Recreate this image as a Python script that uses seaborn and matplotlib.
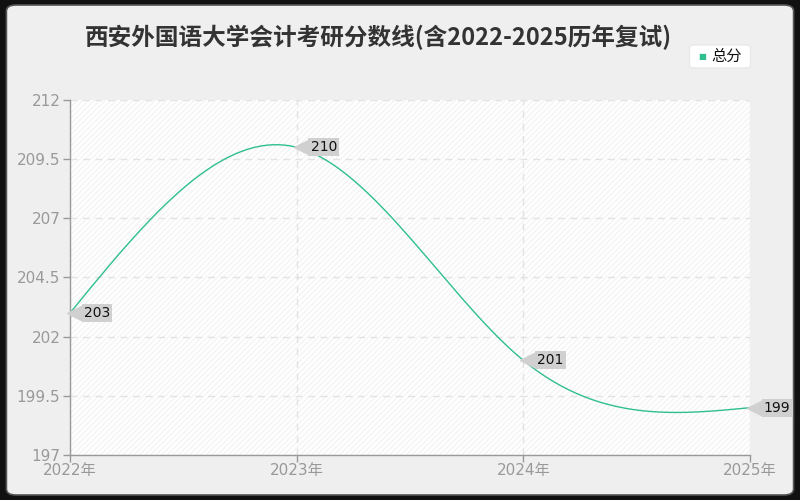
import numpy as np
import pandas as pd
import matplotlib
matplotlib.use("Agg")
import matplotlib.pyplot as plt
import matplotlib.transforms as mtransforms
from matplotlib.patches import FancyBboxPatch
import seaborn as sns

# Datos
years = [2022, 2023, 2024, 2025]
year_labels = ["2022年", "2023年", "2024年", "2025年"]
scores = [203, 210, 201, 199]
y_ticks = [197, 199.5, 202, 204.5, 207, 209.5, 212]
title = "西安外国语大学会计考研分数线(含2022-2025历年复试)"
series_name = "总分"

LINE_COLOR = "#2fbf8f"

sns.set_theme(style="white")
plt.rcParams["font.family"] = ["Noto Sans CJK SC", "DejaVu Sans"]
TICK_FONT = ["DejaVu Sans", "Noto Sans CJK SC"]


def natural_spline(x, y, n=300):
    """Curva suave (spline cúbico natural) solo para dibujar la línea."""
    x = np.asarray(x, float)
    y = np.asarray(y, float)
    k = len(x)
    h = np.diff(x)
    A = np.zeros((k, k))
    b = np.zeros(k)
    A[0, 0] = A[-1, -1] = 1
    for i in range(1, k - 1):
        A[i, i - 1] = h[i - 1]
        A[i, i] = 2 * (h[i - 1] + h[i])
        A[i, i + 1] = h[i]
        b[i] = 6 * ((y[i + 1] - y[i]) / h[i] - (y[i] - y[i - 1]) / h[i - 1])
    M = np.linalg.solve(A, b)
    xs = np.linspace(x[0], x[-1], n)
    idx = np.clip(np.searchsorted(x, xs) - 1, 0, k - 2)
    t0 = x[idx]
    t1 = x[idx + 1]
    hh = t1 - t0
    a = (t1 - xs) / hh
    c = (xs - t0) / hh
    ys = (a * y[idx] + c * y[idx + 1]
          + ((a ** 3 - a) * M[idx] + (c ** 3 - c) * M[idx + 1]) * hh ** 2 / 6)
    return xs, ys


fig = plt.figure(figsize=(8, 5), dpi=100)
fig.patch.set_facecolor("#111111")
panel = FancyBboxPatch((0.008, 0.01), 0.984, 0.98,
                       boxstyle="round,pad=0,rounding_size=0.012",
                       transform=fig.transFigure, facecolor="#efefef",
                       edgecolor="#555555", linewidth=1.2, zorder=-10)
fig.patches.append(panel)

ax = fig.add_axes([0.0875, 0.09, 0.85, 0.71])
ax.set_zorder(1)
ax.set_facecolor("white")
ax.patch.set_hatch("//////")
ax.patch.set_edgecolor("#f4f4f4")
ax.patch.set_linewidth(0)

xs, ys = natural_spline(years, scores)
curve = pd.DataFrame({"year": xs, "score": ys})
sns.lineplot(data=curve, x="year", y="score", ax=ax, color=LINE_COLOR,
             linewidth=1, label=series_name, legend=False)

ax.set_xlim(2022, 2025)
ax.set_ylim(197, 212)
ax.set_xticks(years)
ax.set_xticklabels(year_labels, family=TICK_FONT)
ax.set_yticks(y_ticks)
ax.set_yticklabels([f"{v:g}" for v in y_ticks], family=TICK_FONT)
ax.set_xlabel("")
ax.set_ylabel("")

ax.grid(True, color="#e3e3e3", linestyle=(0, (5, 4)), linewidth=1)
for s in ["top", "right"]:
    ax.spines[s].set_visible(False)
for s in ["left", "bottom"]:
    ax.spines[s].set_color("#999999")
    ax.spines[s].set_linewidth(1)
ax.tick_params(axis="both", colors="#999999", labelcolor="#999999",
               labelsize=11, length=5, width=1, direction="out", pad=2,
               bottom=True, left=True)
ax.tick_params(axis="x", pad=1)

# Etiquetas de valor
tri_tr = mtransforms.offset_copy(ax.transData, fig=fig, x=5, y=0, units="dots")
for x, y in zip(years, scores):
    ax.plot([x], [y], marker="<", markersize=11, color="#d0d0d0",
            transform=tri_tr, clip_on=False, zorder=4)
    ax.annotate(f"{y}", (x, y), xytext=(10, 0), textcoords="offset points",
                ha="left", va="center", fontsize=10, color="#111111",
                family=["DejaVu Sans"], fontweight="medium",
                bbox=dict(boxstyle="square,pad=0.15", fc="#d0d0d0", ec="none"),
                annotation_clip=False, zorder=5)

fig.text(0.473, 0.926, title, ha="center", va="center", fontsize=17,
         fontweight="bold", color="#333333")

# Leyenda
leg_box = FancyBboxPatch((0.862, 0.864), 0.076, 0.046,
                         boxstyle="round,pad=0,rounding_size=0.006",
                         transform=fig.transFigure, facecolor="white",
                         edgecolor="#e6e6e6", linewidth=0.8, zorder=-5)
fig.patches.append(leg_box)
fig.text(0.878, 0.888, "■", ha="center", va="center", fontsize=6,
         color=LINE_COLOR, family=["DejaVu Sans"])
fig.text(0.889, 0.888, series_name, ha="left", va="center", fontsize=11,
         color="#111111")

fig.savefig("out.png", dpi=100, facecolor=fig.get_facecolor())
